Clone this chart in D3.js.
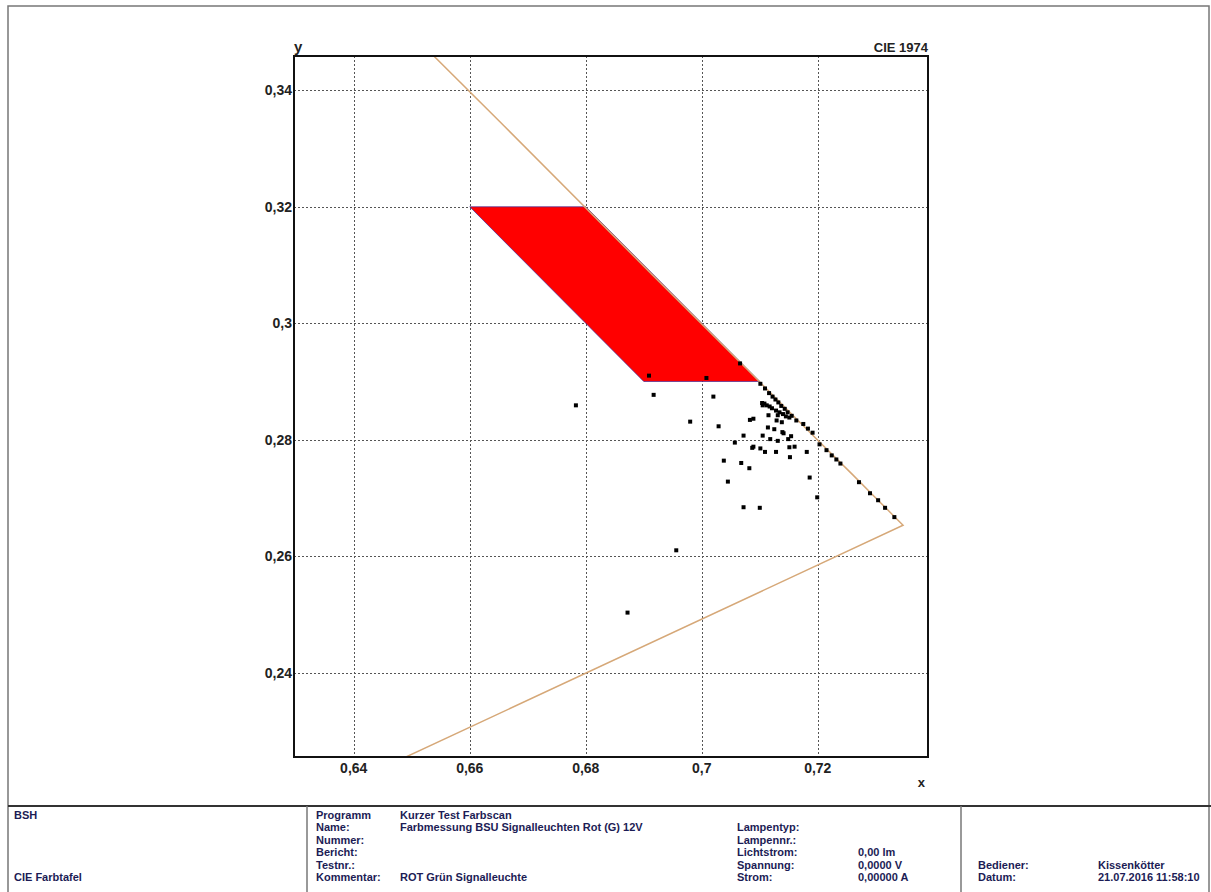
<!DOCTYPE html>
<html>
<head>
<meta charset="utf-8">
<script src="https://cdn.jsdelivr.net/npm/d3@7"></script>
<style>
  body { margin: 0; background: #fff; }
  svg { display: block; font-family: "Liberation Sans", Arial, sans-serif; }
</style>
</head>
<body>
<svg width="1211" height="892"></svg>
<script>
"use strict";

// axis ticks
const xTicks = [0.64, 0.66, 0.68, 0.70, 0.72];
const xTickLabels = ['0,64', '0,66', '0,68', '0,7', '0,72'];
const yTicks = [0.24, 0.26, 0.28, 0.30, 0.32, 0.34];
const yTickLabels = ['0,24', '0,26', '0,28', '0,3', '0,32', '0,34'];

// spectral locus (red end) + purple line end
const locusX = [0.5752, 0.6270, 0.6658, 0.6915, 0.7079, 0.7190, 0.7260, 0.7300, 0.7320, 0.7334, 0.7344, 0.7347, 0.1741];
const locusY = [0.4242, 0.3725, 0.3340, 0.3083, 0.2920, 0.2809, 0.2740, 0.2700, 0.2680, 0.2666, 0.2656, 0.2653, 0.0050];

// red signal tolerance zone
const zoneX = [0.66, 0.68, 0.71, 0.69];
const zoneY = [0.32, 0.32, 0.29, 0.29];

// measured chromaticity points
const measX = [
  0.6909, 0.7008, 0.7066, 0.6917, 0.7020, 0.6980, 0.7029, 0.7083, 0.7089, 0.6783,
  0.7072, 0.7057, 0.7105, 0.7118, 0.7131, 0.7149, 0.7154, 0.7089, 0.7087, 0.7101,
  0.7109, 0.7128, 0.7151, 0.7160, 0.7152, 0.7181, 0.7038, 0.7068, 0.7082, 0.7045,
  0.7186, 0.7199, 0.7072, 0.7100, 0.6956, 0.6872,
  0.7115, 0.7129, 0.7114, 0.7125, 0.7139, 0.7141, 0.7104, 0.7108, 0.7112, 0.7105,
  0.7117, 0.7121, 0.7128, 0.7134, 0.7131, 0.7140, 0.7145, 0.7151, 0.7138,
  0.7101, 0.7109, 0.7116, 0.7122, 0.7127, 0.7132, 0.7137, 0.7143, 0.7148, 0.7155,
  0.7163, 0.7175, 0.7183, 0.7191,
  0.7203, 0.7215, 0.7224, 0.7232, 0.7239, 0.7271, 0.7290, 0.7304, 0.7316, 0.7332
];
const measY = [
  0.2910, 0.2906, 0.2931, 0.2877, 0.2874, 0.2831, 0.2823, 0.2834, 0.2836, 0.2859,
  0.2807, 0.2795, 0.2807, 0.2801, 0.2798, 0.2801, 0.2806, 0.2788, 0.2786, 0.2785,
  0.2779, 0.2779, 0.2787, 0.2788, 0.2770, 0.2779, 0.2764, 0.2760, 0.2751, 0.2728,
  0.2735, 0.2701, 0.2684, 0.2683, 0.2610, 0.2503,
  0.2842, 0.2833, 0.2821, 0.2818, 0.2813, 0.2811, 0.2863, 0.2862, 0.2859, 0.2859,
  0.2857, 0.2854, 0.2850, 0.2847, 0.2842, 0.2844, 0.2840, 0.2838, 0.2830,
  0.2896, 0.2888, 0.2880, 0.2874, 0.2869, 0.2864, 0.2858, 0.2853, 0.2847, 0.2841,
  0.2833, 0.2827, 0.2819, 0.2812,
  0.2792, 0.2782, 0.2773, 0.2766, 0.2759, 0.2727, 0.2708, 0.2696, 0.2683, 0.2667
];

// footer block
const footerLabels2 = ['Programm', 'Name:', 'Nummer:', 'Bericht:', 'Testnr.:', 'Kommentar:'];
const footerValues2 = ['Kurzer Test Farbscan', 'Farbmessung BSU Signalleuchten Rot (G) 12V', '', '', '', 'ROT Grün Signalleuchte'];
const footerLabels3 = ['', 'Lampentyp:', 'Lampennr.:', 'Lichtstrom:', 'Spannung:', 'Strom:'];
const footerValues3 = ['', '', '', '0,00 lm', '0,0000 V', '0,00000 A'];
const footerLabels4 = ['', '', '', '', 'Bediener:', 'Datum:'];
const footerValues4 = ['', '', '', '', 'Kissenkötter', '21.07.2016 11:58:10'];

const svg = d3.select('svg');
const width = +svg.attr('width');
const height = +svg.attr('height');

const plotLeft = 294;
const plotRight = 928;
const plotTop = 56;
const plotBottom = 757;

const x = d3.scaleLinear().domain([0.6297, 0.7390]).range([plotLeft, plotRight]);
const y = d3.scaleLinear().domain([0.2255, 0.3459]).range([plotBottom, plotTop]);

// outer frame
svg.append('rect')
    .attr('x', 8).attr('y', 6)
    .attr('width', width - 10).attr('height', height - 5)
    .attr('fill', 'none')
    .attr('stroke', '#777')
    .attr('stroke-width', 1.5);

svg.append('defs').append('clipPath').attr('id', 'plotClip')
  .append('rect')
    .attr('x', plotLeft).attr('y', plotTop)
    .attr('width', plotRight - plotLeft).attr('height', plotBottom - plotTop);

// grid
const grid = svg.append('g')
    .attr('stroke', '#555')
    .attr('stroke-width', 1)
    .attr('stroke-dasharray', '2,2');

grid.selectAll('.vgrid').data(xTicks).join('line')
    .attr('x1', d => Math.round(x(d)) + 0.5).attr('x2', d => Math.round(x(d)) + 0.5)
    .attr('y1', plotTop).attr('y2', plotBottom);

grid.selectAll('.hgrid').data(yTicks).join('line')
    .attr('y1', d => Math.round(y(d)) + 0.5).attr('y2', d => Math.round(y(d)) + 0.5)
    .attr('x1', plotLeft).attr('x2', plotRight);

const plot = svg.append('g').attr('clip-path', 'url(#plotClip)');

// tolerance zone
plot.append('polygon')
    .attr('points', zoneX.map((d, i) => [x(d), y(zoneY[i])].join(',')).join(' '))
    .attr('fill', '#ff0000')
    .attr('stroke', '#3a2a9a')
    .attr('stroke-width', 0.7);

// spectral locus
const locusLine = d3.line()
    .x(d => x(d[0]))
    .y(d => y(d[1]));

plot.append('path')
    .attr('d', locusLine(locusX.map((d, i) => [d, locusY[i]])))
    .attr('fill', 'none')
    .attr('stroke', '#d6a878')
    .attr('stroke-width', 1.5);

// measured points
const pointSize = 4;
plot.selectAll('.pt').data(measX.map((d, i) => [d, measY[i]])).join('rect')
    .attr('x', d => x(d[0]) - pointSize / 2)
    .attr('y', d => y(d[1]) - pointSize / 2)
    .attr('width', pointSize)
    .attr('height', pointSize)
    .attr('fill', '#000');

// plot frame
svg.append('rect')
    .attr('x', plotLeft).attr('y', plotTop)
    .attr('width', plotRight - plotLeft).attr('height', plotBottom - plotTop)
    .attr('fill', 'none')
    .attr('stroke', '#111')
    .attr('stroke-width', 2);

// tick labels
svg.append('g').selectAll('text').data(xTicks).join('text')
    .attr('x', d => x(d))
    .attr('y', plotBottom + 16)
    .attr('text-anchor', 'middle')
    .attr('font-size', 14).attr('font-weight', 'bold').attr('fill', '#222')
    .text((d, i) => xTickLabels[i]);

svg.append('g').selectAll('text').data(yTicks).join('text')
    .attr('x', plotLeft - 2)
    .attr('y', d => y(d) + 5)
    .attr('text-anchor', 'end')
    .attr('font-size', 14).attr('font-weight', 'bold').attr('fill', '#222')
    .text((d, i) => yTickLabels[i]);

svg.append('text')
    .attr('x', plotLeft).attr('y', plotTop - 4)
    .attr('font-size', 15).attr('font-weight', 'bold').attr('fill', '#222')
    .text('y');

svg.append('text')
    .attr('x', plotRight - 3).attr('y', plotBottom + 30)
    .attr('text-anchor', 'end')
    .attr('font-size', 13).attr('font-weight', 'bold').attr('fill', '#222')
    .text('x');

svg.append('text')
    .attr('x', plotRight).attr('y', plotTop - 4)
    .attr('text-anchor', 'end')
    .attr('font-size', 13).attr('font-weight', 'bold').attr('fill', '#222')
    .text('CIE 1974');

// footer
const footerTop = 806;
svg.append('line')
    .attr('x1', 8).attr('x2', width)
    .attr('y1', footerTop).attr('y2', footerTop)
    .attr('stroke', '#333').attr('stroke-width', 2);

[307, 961].forEach(fx => {
  svg.append('line')
      .attr('x1', fx).attr('x2', fx)
      .attr('y1', footerTop).attr('y2', height)
      .attr('stroke', '#777').attr('stroke-width', 1.5);
});

const rowY = i => footerTop + 13 + i * 12.4;
const footer = svg.append('g')
    .attr('font-size', 11).attr('font-weight', 'bold').attr('fill', '#1c1c55');

function footerColumn(texts, fx) {
  footer.append('g').selectAll('text').data(texts).join('text')
      .attr('x', fx)
      .attr('y', (d, i) => rowY(i))
      .text(d => d);
}

footerColumn(['BSH', '', '', '', '', 'CIE Farbtafel'], 14);
footerColumn(footerLabels2, 316);
footerColumn(footerValues2, 400);
footerColumn(footerLabels3, 737);
footerColumn(footerValues3, 858);
footerColumn(footerLabels4, 978);
footerColumn(footerValues4, 1098);
</script>
</body>
</html>
